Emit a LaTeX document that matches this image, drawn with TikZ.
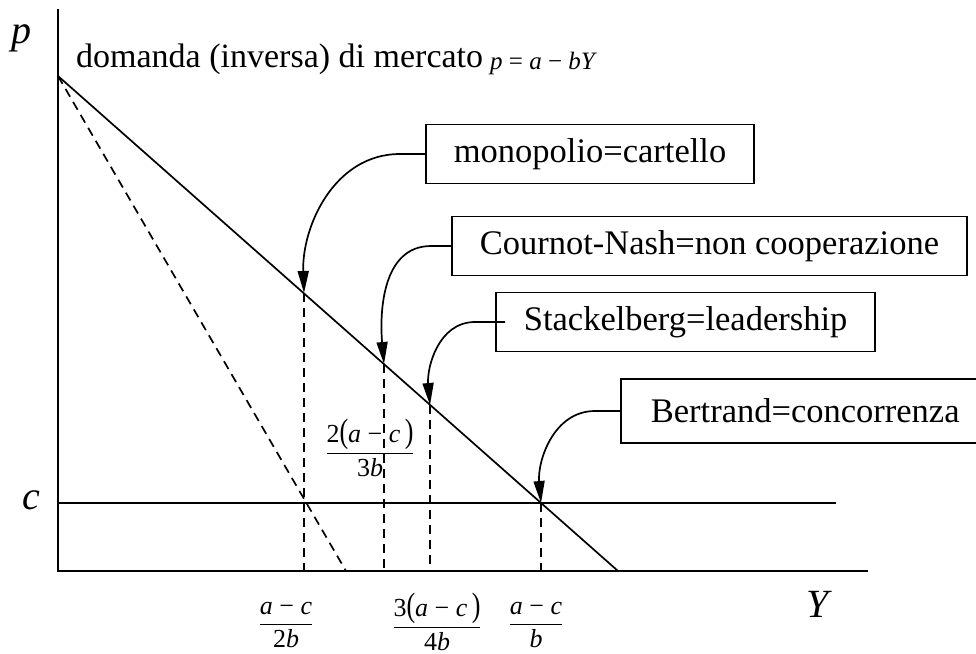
\documentclass[tikz,border=0pt]{standalone}
\usepackage{fontspec}
\usepackage{graphicx}
\setmainfont{Liberation Serif}
\usetikzlibrary{arrows.meta,calc}
\newcommand\tpar[1]{\scalebox{1}[1.3]{#1}}
\newcommand\myfr[2]{$\displaystyle\frac{\mbox{#1}}{\mbox{#2}}$}
\begin{document}
\begin{tikzpicture}[x=1pt,y=-1pt,
  box/.style={draw,line width=1.7pt,inner xsep=28pt,minimum height=59pt,font=\fontsize{34.5}{38}\selectfont,anchor=west},
  ax/.style={line width=2pt},
  ln/.style={line width=1.7pt},
  dsh/.style={line width=1.7pt,dash pattern=on 9pt off 6pt},
  arr/.style={line width=1.7pt,-{Triangle[length=22pt,width=11pt]}},
  lbl/.style={font=\fontsize{26}{30}\selectfont,inner sep=0pt},
  big/.style={font=\fontsize{40}{44}\selectfont\itshape,inner sep=0pt}]
\useasboundingbox (0,0) rectangle (976,653);
% axes
\coordinate (O) at (58,571);
\coordinate (ytop) at (58,9);
\coordinate (xend) at (868,571);
\coordinate (A) at (58,76);
\coordinate (D0) at (618,571);
\coordinate (M0) at (346,571);
\coordinate (cL) at (58,503);
\coordinate (cR) at (836,503);
\draw[ax] (ytop) -- (O) -- (xend);
\draw[ln] (cL) -- (cR);
\draw[ln] (A) -- (D0);
\draw[dsh] (A) -- (M0);
% points on demand
\coordinate (Pm) at (304,293);
\coordinate (Pc) at (384,364);
\coordinate (Ps) at (430,405);
\coordinate (Pb) at (541,503);
\coordinate (Bm) at (304,571);
\coordinate (Bc) at (384,571);
\coordinate (Bs) at (430,571);
\coordinate (Bb) at (541,571);
\draw[dsh] (Pm) -- (Bm);
\draw[dsh] (Pc) -- (Bc);
\draw[dsh] (Ps) -- (Bs);
\draw[dsh] (Pb) -- (Bb);
% labels
\node[big] (lp) at (22,38) {p};
\node[big] (lc) at (31,500) {c};
\node[big] (lY) at (818,604) {Y};
\node[font=\fontsize{34}{38}\selectfont,anchor=base west,inner sep=0pt] (dom) at (76,67) {domanda (inversa) di mercato};
\node[font=\fontsize{25}{28}\selectfont,anchor=base west,inner sep=0pt] (eq) at (490,69) {\textit{p} = \textit{a} − \textit{bY}};
\node[lbl] (f1) at (286,625) {\myfr{\textit{a} − \textit{c}}{2\textit{b}}};
\node[lbl] (f2) at (437,622) {\myfr{3\tpar{(}\textit{a} − \textit{c}\,\tpar{)}}{4\textit{b}}};
\node[lbl] (f3) at (536,625) {\myfr{\textit{a} − \textit{c}}{\textit{b}}};
\node[lbl] (f4) at (370,448) {\myfr{2\tpar{(}\textit{a} − \textit{c}\,\tpar{)}}{3\textit{b}}};
% boxes
\node[box] (mono) at (425,154) {monopolio=cartello};
\node[box] (cour) at (451,246) {Cournot-Nash=non cooperazione};
\node[box] (stack) at (495,322) {Stackelberg=leadership};
\node[box,minimum height=64pt,minimum width=380pt,inner xsep=0pt,text width=320pt,align=left] (bert) at (620,411) {Bertrand=concorrenza};
% arrows
\draw[arr] (mono.west) -- ++(-25,0) to[out=180,in=92] (Pm);
\draw[arr] (cour.west) -- ++(-20,0) to[out=180,in=95] (Pc);
\draw[arr] ($(stack.west)+(10,0)$) -- ++(-30,0) to[out=180,in=95] (Ps);
\draw[arr] (bert.west) -- ++(-25,0) to[out=180,in=95] (Pb);
\end{tikzpicture}
\end{document}
